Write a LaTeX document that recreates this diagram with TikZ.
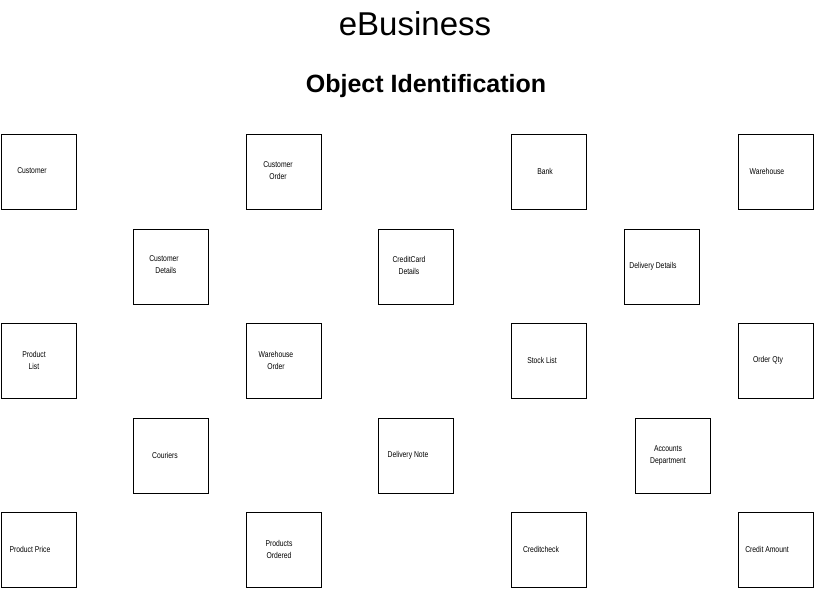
\documentclass[tikz,border=0pt]{standalone}
\usepackage{fontspec}
\setmainfont{Liberation Sans}
\begin{document}
\begin{tikzpicture}[x=1pt,y=-1pt,
  obj/.style={draw,line width=0.6pt,minimum width=75pt,minimum height=75pt,anchor=north west,inner sep=0},
  lbl/.style={font=\fontsize{8.5}{12}\selectfont,align=center,inner sep=0,xscale=0.8}]
\useasboundingbox (0,0) rectangle (814,589);
\node[font=\fontsize{33}{38}\selectfont] (t1) at (415,24) {eBusiness};
\node[font=\bfseries\fontsize{25}{30}\selectfont] (t2) at (426,86) {Object Identification};
\foreach \n/\x/\y in {b1/1/134,b2/246/134,b3/511/134,b4/738/134,
  b5/133/229,b6/378/229,b7/624/229,
  b8/1/323,b9/246/323,b10/511/323,b11/738/323,
  b12/133/418,b13/378/418,b14/635/418,
  b15/1/512,b16/246/512,b17/511/512,b18/738/512}
  \node[obj] (\n) at (\x,\y) {};
\node[lbl] (l1) at (32,171) {Customer};
\node[lbl] (l2) at (278,171) {Customer\\Order};
\node[lbl] (l3) at (545,171) {Bank};
\node[lbl] (l4) at (767,171) {Warehouse};
\node[lbl] (l5) at (164,265) {Customer\\\ \ Details};
\node[lbl] (l6) at (409,265) {CreditCard\\Details};
\node[lbl] (l7) at (653,266) {Delivery Details};
\node[lbl] (l8) at (34,360) {Product\\List};
\node[lbl] (l9) at (276,360) {Warehouse\\Order};
\node[lbl] (l10) at (542,360) {Stock List};
\node[lbl] (l11) at (768,360) {Order Qty};
\node[lbl] (l12) at (165,455) {Couriers};
\node[lbl] (l13) at (408,455) {Delivery Note};
\node[lbl] (l14) at (668,455) {Accounts\\Department};
\node[lbl] (l15) at (30,549) {Product Price};
\node[lbl] (l16) at (279,549) {Products\\Ordered};
\node[lbl] (l17) at (541,549) {Creditcheck};
\node[lbl] (l18) at (767,549) {Credit Amount};
\end{tikzpicture}
\end{document}
